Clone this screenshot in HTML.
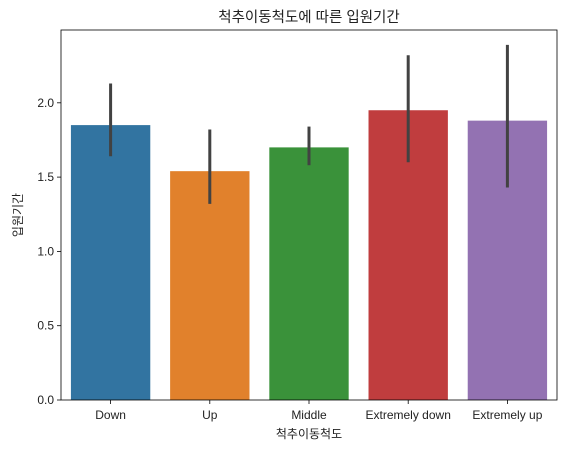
<!DOCTYPE html>
<html><head><meta charset="utf-8"><style>
body{margin:0;background:#fff;}
svg text{font-family:"Liberation Sans","Noto Sans CJK KR",sans-serif;fill:#222;}
</style></head><body>
<svg id="chart" width="569" height="450" xmlns="http://www.w3.org/2000/svg">
<text x="309" y="22" font-size="14.5" text-anchor="middle">척추이동척도에 따른 입원기간</text>
<g id="bars"></g>
<g id="axes"></g>
<text x="309" y="438" font-size="12" text-anchor="middle">척추이동척도</text>
<text transform="translate(22,215) rotate(-90)" font-size="12" text-anchor="middle">입원기간</text>
</svg>
<script>
const categories=["Down","Up","Middle","Extremely down","Extremely up"];
const means=[1.85,1.54,1.70,1.95,1.88];
const errLow=[1.64,1.32,1.58,1.60,1.43];
const errHigh=[2.13,1.82,1.84,2.32,2.39];
const colors=["#3274a1","#e1812c","#3a923a","#c03d3e","#9372b2"];
const yTicks=[0,0.5,1.0,1.5,2.0];
const L=61,R=557,T=30,B=400,yMax=2.49;
const ns="http://www.w3.org/2000/svg";
const y=v=>B-(v/yMax)*(B-T);
const bw=(R-L)/categories.length;
const x=i=>L+(i+0.5)*bw;
function mk(tag,a,parent){const e=document.createElementNS(ns,tag);for(const k in a)e.setAttribute(k,a[k]);parent.appendChild(e);return e;}
const bars=document.getElementById('bars'),axes=document.getElementById('axes');
categories.forEach((c,i)=>{
 const r=mk('rect',{x:x(i)-bw*0.4,y:y(means[i]),width:bw*0.8,height:B-y(means[i]),fill:colors[i]},bars);
 
 
 const e=mk('line',{x1:x(i),x2:x(i),y1:y(errLow[i]),y2:y(errHigh[i]),stroke:'#424242','stroke-width':3},bars);
 
 
 const t=mk('line',{x1:x(i),x2:x(i),y1:B,y2:B+4,stroke:'#000','stroke-width':0.8},axes);
 
 
 const l=mk('text',{x:x(i),y:B+19,'font-size':12,'text-anchor':'middle'},axes);
 l.textContent=c;
 
 
});
yTicks.forEach(v=>{
 const t=mk('line',{x1:L-4,x2:L,y1:y(v),y2:y(v),stroke:'#000','stroke-width':0.8},axes);
 
 
 const l=mk('text',{x:L-7,y:y(v)+4,'font-size':12,'text-anchor':'end'},axes);
 l.textContent=v.toFixed(1);
 
 
});
const f=mk('rect',{x:L,y:T,width:R-L,height:B-T,fill:'none',stroke:'#000','stroke-width':0.8},axes);


</script>
</body></html>
